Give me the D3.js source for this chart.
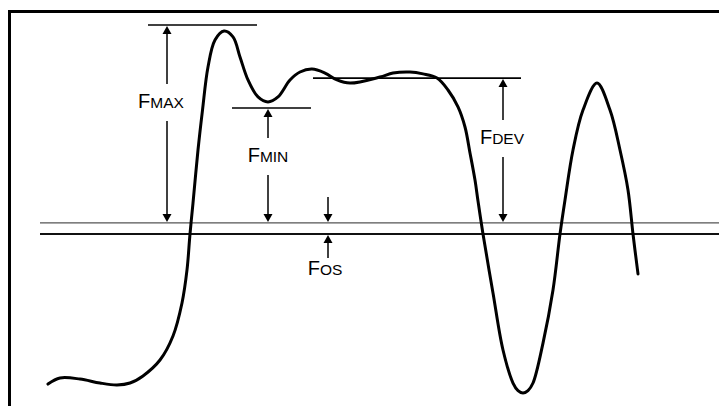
<!DOCTYPE html>
<html>
<head>
<meta charset="utf-8">
<script src="https://cdn.jsdelivr.net/npm/d3@7"></script>
<style>
  body { margin: 0; background: #fff; }
  svg { display: block; }
</style>
</head>
<body>
<div id="chart"></div>
<script>
// waveform, time vs amplitude (% of FMAX level)
var time = [1.6, 4, 8, 12, 15.4, 18, 20.6, 24, 26.6, 28.4, 29.4, 30, 30.6, 31.6, 32.5, 33.6, 35, 36.8,
    38.6, 40, 41.6, 43.6, 45.6, 47.6, 50, 52, 54.4, 57, 59.4, 62, 68, 70.6, 74, 76.6, 79.4, 81.6,
    83.6, 85, 86, 87, 87.6, 88.6, 90.6, 92.6, 94.6, 95.6, 96.6, 97.6, 98.6, 100.6, 102.6, 104, 105, 106.6,
    108.6, 111.4, 114, 116, 117.6, 118.6, 119.6];
var amp = [-71.8, -68.9, -69.4, -71.3, -72.2, -71.3, -67.9, -60.3, -48.8, -33.0, -17.2, 0, 14.8, 40.2, 59.3, 79.9, 92.8, 97.1,
    94.3, 84.7, 73.7, 65.6, 63.2, 65.6, 73.7, 77.5, 78.9, 77.0, 73.7, 72.2, 75.1, 77.0, 77.5, 76.6, 74.6, 68.9,
    60.8, 51.2, 38.8, 25.8, 15.8, 0, -28.2, -55.5, -71.3, -74.9, -76.1, -74.9, -71.3, -52.2, -26.8, 0, 16.3, 40.2,
    59.3, 72.2, 59.3, 40.2, 21.1, 0, -19.1];

// reference levels
var baseLevel = 0;
var osLevel = 5.3;

// annotations: name, subscript, level, bar start / end, arrow time
var annNames = ["F", "F", "F"];
var annSubs = ["MAX", "MIN", "DEV"];
var annLevels = [100, 60.3, 74.6];
var annFrom = [21.6, 38.4, 54.6];
var annTo = [43.4, 54.2, 96.2];
var annAt = [25.4, 45.6, 92.6];
var osAt = 57.6;

var W = 719, H = 406;

var x = d3.scaleLinear().domain([0, 136]).range([40, 720]);
var y = d3.scaleLinear().domain([-80, 100]).range([401.2, 25]);

var svg = d3.select("#chart").append("svg")
    .attr("width", W)
    .attr("height", H);

// frame (runs off the right and bottom)
svg.append("rect")
    .attr("x", 9.5).attr("y", 11.5)
    .attr("width", 800).attr("height", 500)
    .attr("fill", "none")
    .attr("stroke", "#000")
    .attr("stroke-width", 3);

// threshold lines
svg.append("line")
    .attr("x1", x(0)).attr("x2", x(136))
    .attr("y1", y(osLevel)).attr("y2", y(osLevel))
    .attr("stroke", "#555").attr("stroke-width", 1.3);
svg.append("line")
    .attr("x1", x(0)).attr("x2", x(136))
    .attr("y1", y(baseLevel)).attr("y2", y(baseLevel))
    .attr("stroke", "#111").attr("stroke-width", 2);

function arrowHead(px, py, dir) {
    // dir = -1 points up, 1 points down; tip at (px, py)
    svg.append("path")
        .attr("d", "M" + px + "," + py + "L" + (px - 4.5) + "," + (py - dir * 8) + "L" + (px + 4.5) + "," + (py - dir * 8) + "Z")
        .attr("fill", "#000");
}

function label(px, base, name, sub) {
    var t = svg.append("text")
        .attr("x", px).attr("y", base)
        .attr("text-anchor", "middle")
        .attr("font-family", "'Liberation Sans', Arial, sans-serif")
        .attr("fill", "#000");
    t.append("tspan").attr("font-size", 20).text(name);
    t.append("tspan").attr("font-size", 15.5).text(sub);
}

var labelBase = [108, 162, 144];
var labelShift = [-6, 0, -1];

annLevels.forEach(function(lv, i) {
    var px = x(annAt[i]);
    // level bar
    svg.append("line")
        .attr("x1", x(annFrom[i])).attr("x2", x(annTo[i]))
        .attr("y1", y(lv)).attr("y2", y(lv))
        .attr("stroke", "#000").attr("stroke-width", 1.6);
    var top = y(lv) + 1, bot = y(osLevel) - 1;
    var b = labelBase[i];
    // shaft with gap for the label
    svg.append("line")
        .attr("x1", px).attr("x2", px)
        .attr("y1", top + 6).attr("y2", b - 24)
        .attr("stroke", "#000").attr("stroke-width", 1.5);
    svg.append("line")
        .attr("x1", px).attr("x2", px)
        .attr("y1", b + 13).attr("y2", bot - 6)
        .attr("stroke", "#000").attr("stroke-width", 1.5);
    arrowHead(px, top, -1);
    arrowHead(px, bot, 1);
    label(px + labelShift[i], b, annNames[i], annSubs[i]);
});

// offset arrows
var ox = x(osAt);
svg.append("line")
    .attr("x1", ox).attr("x2", ox)
    .attr("y1", y(osLevel) - 26).attr("y2", y(osLevel) - 6)
    .attr("stroke", "#000").attr("stroke-width", 1.5);
arrowHead(ox, y(osLevel) - 1, 1);
svg.append("line")
    .attr("x1", ox).attr("x2", ox)
    .attr("y1", y(baseLevel) + 6).attr("y2", y(baseLevel) + 24)
    .attr("stroke", "#000").attr("stroke-width", 1.5);
arrowHead(ox, y(baseLevel) + 1, -1);
label(ox - 3, 275, "F", "OS");

// waveform
var line = d3.line()
    .x(function(d) { return x(d[0]); })
    .y(function(d) { return y(d[1]); })
    .curve(d3.curveCatmullRom.alpha(0.5));

svg.append("path")
    .datum(d3.zip(time, amp))
    .attr("d", line)
    .attr("fill", "none")
    .attr("stroke", "#000")
    .attr("stroke-width", 3)
    .attr("stroke-linecap", "round")
    .attr("stroke-linejoin", "round");
</script>
</body>
</html>
